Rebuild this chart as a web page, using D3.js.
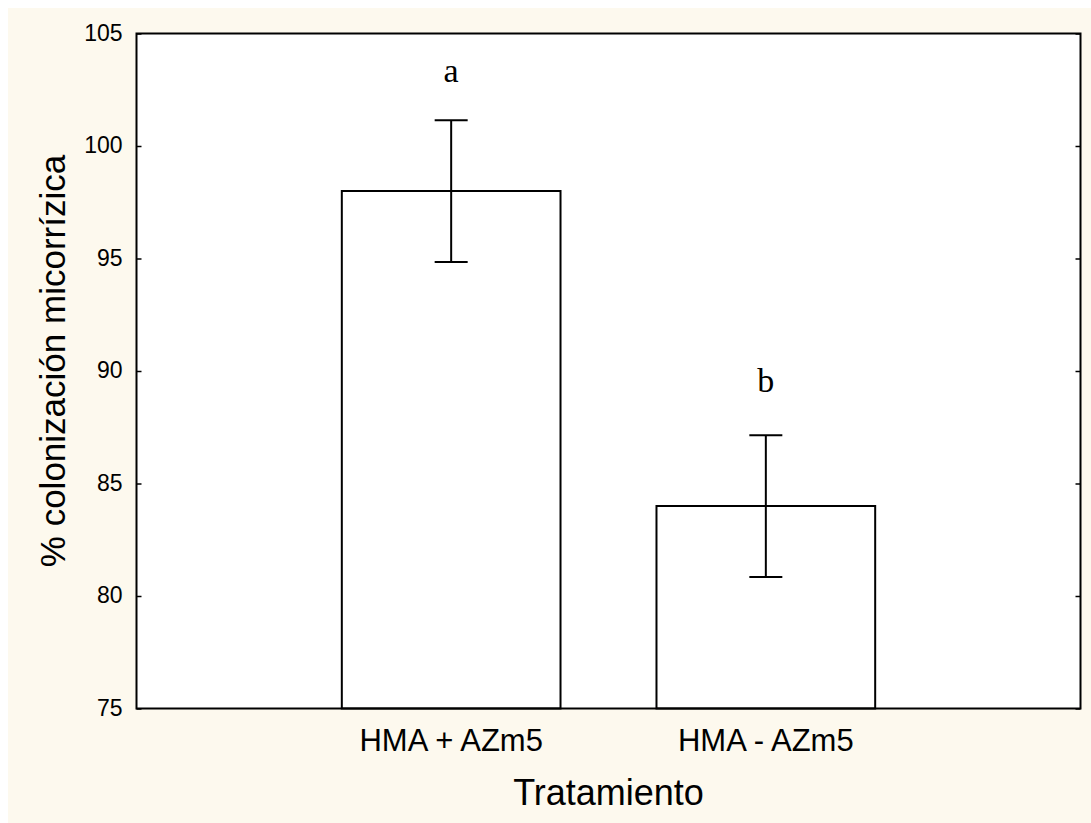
<!DOCTYPE html>
<html>
<head>
<meta charset="utf-8">
<script src="https://cdn.jsdelivr.net/npm/d3@7"></script>
<style>
  body { margin: 0; background: #fff; }
  text { font-family: Arial, "Liberation Sans", sans-serif; }
</style>
</head>
<body>
<div id="chart"></div>
<script>
// data
var categories = ["HMA + AZm5", "HMA - AZm5"];
var means = [98, 84];
var upper = [101.15, 87.15];
var lower = [94.85, 80.85];
var letters = ["a", "b"];
var yTicks = [75, 80, 85, 90, 95, 100, 105];

var W = 1091, H = 823;
var plotL = 136.5, plotR = 1080.5, plotT = 33.5, plotB = 708.5;
var letterGap = [38, 43];

var svg = d3.select("#chart").append("svg")
  .attr("width", W)
  .attr("height", H)
  .style("display", "block");

// cream page
svg.append("rect")
  .attr("x", 8).attr("y", 8)
  .attr("width", W - 8).attr("height", H - 8)
  .attr("fill", "#fdf9ee");

// plot area
svg.append("rect")
  .attr("x", plotL).attr("y", plotT)
  .attr("width", plotR - plotL).attr("height", plotB - plotT)
  .attr("fill", "#fff");

var x = d3.scalePoint()
  .domain(categories)
  .range([plotL, plotR])
  .padding(1);

var y = d3.scaleLinear()
  .domain([75, 105])
  .range([plotB, plotT]);

var barW = x.step() * 0.695;

// bars
svg.selectAll("rect.bar")
  .data(means)
  .enter()
  .append("rect")
  .attr("class", "bar")
  .attr("x", (d, i) => x(categories[i]) - barW / 2)
  .attr("y", (d) => y(d))
  .attr("width", barW)
  .attr("height", (d) => y(75) - y(d))
  .attr("fill", "#fff")
  .attr("stroke", "#000")
  .attr("stroke-width", 2);

// error bars
var err = svg.selectAll("g.err")
  .data(categories)
  .enter()
  .append("g")
  .attr("class", "err")
  .attr("stroke", "#000")
  .attr("stroke-width", 2);

err.append("line")
  .attr("x1", (d) => x(d)).attr("x2", (d) => x(d))
  .attr("y1", (d, i) => y(upper[i]))
  .attr("y2", (d, i) => y(lower[i]));
err.append("line")
  .attr("x1", (d) => x(d) - 16.5).attr("x2", (d) => x(d) + 16.5)
  .attr("y1", (d, i) => y(upper[i]))
  .attr("y2", (d, i) => y(upper[i]));
err.append("line")
  .attr("x1", (d) => x(d) - 16.5).attr("x2", (d) => x(d) + 16.5)
  .attr("y1", (d, i) => y(lower[i]))
  .attr("y2", (d, i) => y(lower[i]));

// significance letters
svg.selectAll("text.letter")
  .data(letters)
  .enter()
  .append("text")
  .attr("class", "letter")
  .text((d) => d)
  .attr("x", (d, i) => x(categories[i]))
  .attr("y", (d, i) => y(upper[i]) - letterGap[i])
  .attr("text-anchor", "middle")
  .attr("font-size", 34)
  .style("font-family", "'Liberation Serif', 'Times New Roman', serif");

// frame
svg.append("rect")
  .attr("x", plotL).attr("y", plotT)
  .attr("width", plotR - plotL).attr("height", plotB - plotT)
  .attr("fill", "none")
  .attr("stroke", "#000")
  .attr("stroke-width", 2);

// y axis, ticks inside on both sides
svg.append("g")
  .attr("transform", "translate(" + plotL + ",0)")
  .call(d3.axisRight(y).tickValues(yTicks).tickSize(5).tickFormat(""))
  .call((g) => g.select(".domain").remove())
  .selectAll("line").attr("stroke-width", 1.5);

svg.append("g")
  .attr("transform", "translate(" + plotR + ",0)")
  .call(d3.axisLeft(y).tickValues(yTicks).tickSize(5).tickFormat(""))
  .call((g) => g.select(".domain").remove())
  .selectAll("line").attr("stroke-width", 1.5);

svg.selectAll("text.ytick")
  .data(yTicks)
  .enter()
  .append("text")
  .attr("class", "ytick")
  .text((d) => d)
  .attr("x", plotL - 14)
  .attr("y", (d) => y(d) + 7)
  .attr("text-anchor", "end")
  .attr("font-size", 23);

svg.selectAll("text.xtick")
  .data(categories)
  .enter()
  .append("text")
  .attr("class", "xtick")
  .text((d) => d)
  .attr("x", (d) => x(d))
  .attr("y", 751)
  .attr("text-anchor", "middle")
  .attr("font-size", 31);

// axis titles
svg.append("text")
  .text("Tratamiento")
  .attr("x", (plotL + plotR) / 2)
  .attr("y", 805)
  .attr("text-anchor", "middle")
  .attr("font-size", 36);

svg.append("text")
  .text("% colonización micorrízica")
  .attr("transform", "translate(65,361) rotate(-90)")
  .attr("text-anchor", "middle")
  .attr("font-size", 35);
</script>
</body>
</html>
